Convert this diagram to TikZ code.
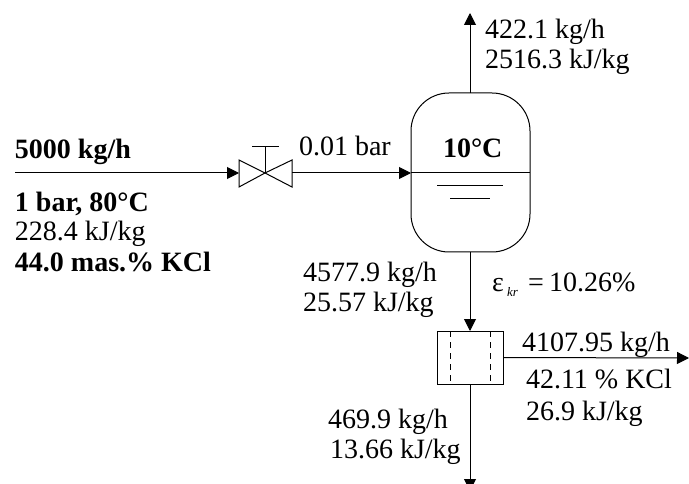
\documentclass[tikz,border=0pt]{standalone}
\usepackage{fontspec}
\setmainfont{Liberation Serif}
\usetikzlibrary{arrows.meta}
\tikzset{
  x=1pt,y=-1pt,
  flow/.style={draw=black,line width=1pt,-{Triangle[length=12pt,width=12pt]}},
  pipe/.style={draw=black,line width=1pt},
  vesselbox/.style={draw=black,line width=1pt,rounded corners=38pt,minimum width=119pt,minimum height=159pt,inner sep=0pt,outer sep=0pt},
  filterbox/.style={draw=black,line width=1pt,minimum width=66pt,minimum height=53pt,inner sep=0pt,outer sep=0pt},
  dashline/.style={draw=black,dash pattern=on 6pt off 5pt,line width=0.9pt},
  lbl/.style={anchor=base west,inner sep=0pt,outer sep=0pt,font=\fontsize{28}{30}\selectfont,align=left},
  bl/.style={lbl,font=\fontsize{28}{30}\selectfont\bfseries},
}
\begin{document}
\begin{tikzpicture}
\useasboundingbox (0,0) rectangle (689,484);
\clip (0,0) rectangle (689,484);
% nodes
\node[vesselbox] (vessel) at (470.5,172.5) {};
\node[filterbox] (filter) at (470,357.5) {};
\coordinate (valve) at (265,173);
\coordinate (vl) at (239,173);
\coordinate (vr) at (292,173);
\coordinate (vtop) at (265,147);
\coordinate (in) at (15,173);
\coordinate (vaporout) at (470,13);
\coordinate (brineout) at (689,358);
\coordinate (solidout) at (470,491);
\coordinate (dl) at (450.5,0);
\coordinate (dr) at (490,0);
% valve
\draw[pipe,line join=miter] (valve) -- (239,160) -- (239,187) -- cycle;
\draw[pipe,line join=miter] (valve) -- (292,160) -- (292,187) -- cycle;
\draw[pipe] (valve) -- (vtop);
\draw[pipe] (252,147) -- (279,147);
% connectors
\draw[flow] (in) -- (vl);
\draw[flow] (vr) -- (vessel.west |- vr);
\draw[flow] (vessel.north -| vaporout) -- (vaporout);
\draw[flow] (vessel.south -| filter.north) -- (filter.north);
\draw[flow] (filter.east) -- (brineout);
\draw[flow] (filter.south) -- (solidout);
% vessel internals
\draw[pipe] (vessel.west |- vr) -- (vessel.east |- vr);
\draw[pipe,line width=0.9pt] (437,185.5) -- (503,185.5);
\draw[pipe,line width=0.9pt] (450,198.5) -- (490,198.5);
% filter internals
\draw[dashline] (filter.north -| dl) -- (filter.south -| dl);
\draw[dashline] (filter.north -| dr) -- (filter.south -| dr);
% labels
\node[bl] (t1) at (15,159) {5000 kg/h};
\node[bl] (t2) at (15,212) {1 bar, 80°C};
\node[lbl] (t3) at (15,241) {228.4 kJ/kg};
\node[bl] (t4) at (15,272) {44.0 mas.\% KCl};
\node[lbl] (t5) at (299,156) {0.01 bar};
\node[bl] (t6) at (443,158) {10°C};
\node[lbl] (t7) at (485,39) {422.1 kg/h};
\node[lbl] (t8) at (485,69) {2516.3 kJ/kg};
\node[lbl] (t9) at (303,282) {4577.9 kg/h};
\node[lbl] (t10) at (303,312) {25.57 kJ/kg};
\node[lbl] (t11) at (492,291) {ε};
\node[anchor=base west,inner sep=0pt,font=\fontsize{13}{14}\selectfont\itshape] (t12) at (507,297) {kr};
\node[lbl] (t13a) at (528,291) {=};
\node[lbl] (t13) at (549,291) {10.26\%};
\node[lbl] (t14) at (522,351) {4107.95 kg/h};
\node[lbl] (t15) at (526,388) {42.11 \% KCl};
\node[lbl] (t16) at (526,420) {26.9 kJ/kg};
\node[lbl] (t17) at (328,428) {469.9 kg/h};
\node[lbl] (t18) at (330,458) {13.66 kJ/kg};
\end{tikzpicture}
\end{document}
